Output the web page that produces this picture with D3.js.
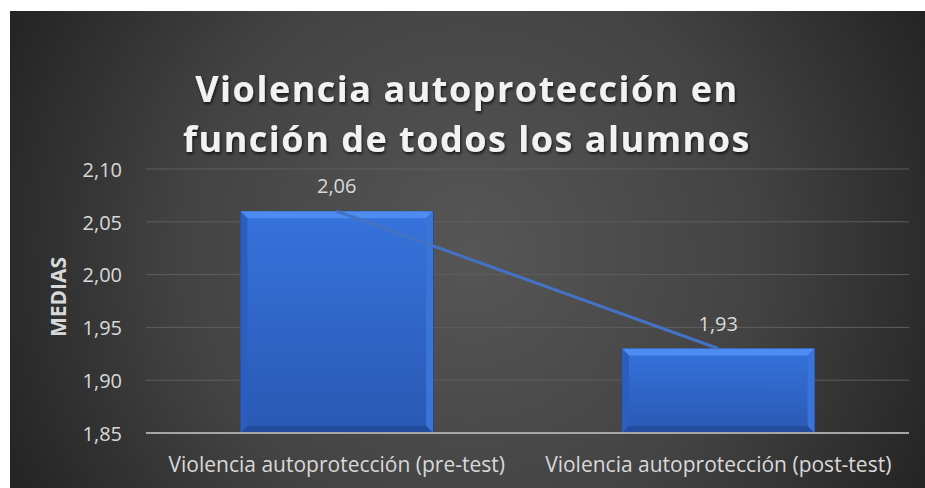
<!DOCTYPE html>
<html>
<head>
<meta charset="utf-8">
<script src="https://cdn.jsdelivr.net/npm/d3@7"></script>
<style>
  body { margin: 0; background: #fff; }
  text { font-family: "Open Sans", "Noto Sans", sans-serif; }
</style>
</head>
<body>
<svg width="925" height="488"></svg>
<script>
var categories = ["Violencia autoprotección (pre-test)", "Violencia autoprotección (post-test)"];
var values = [2.06, 1.93];
var yTicks = [1.85, 1.90, 1.95, 2.00, 2.05, 2.10];
var titleLines = ["Violencia autoprotección en", "función de todos los alumnos"];

var svg = d3.select("svg"),
    width = +svg.attr("width"),
    height = +svg.attr("height");

var locale = d3.formatLocale({ decimal: ",", thousands: ".", grouping: [3], currency: ["", "€"] });
var fmt = locale.format(".2f");

var defs = svg.append("defs");

var bg = defs.append("radialGradient").attr("id", "bg")
    .attr("gradientUnits", "userSpaceOnUse")
    .attr("cx", 470).attr("cy", 250).attr("r", 520);
bg.append("stop").attr("offset", "0%").attr("stop-color", "#565656");
bg.append("stop").attr("offset", "55%").attr("stop-color", "#434343");
bg.append("stop").attr("offset", "100%").attr("stop-color", "#232323");

var barGrad = defs.append("linearGradient").attr("id", "barGrad")
    .attr("x1", 0).attr("y1", 0).attr("x2", 0).attr("y2", 1);
barGrad.append("stop").attr("offset", "0%").attr("stop-color", "#3673dc");
barGrad.append("stop").attr("offset", "100%").attr("stop-color", "#2a58b4");

var shadow = defs.append("filter").attr("id", "shadow")
    .attr("x", "-10%").attr("y", "-20%").attr("width", "120%").attr("height", "150%");
shadow.append("feDropShadow").attr("dx", 1).attr("dy", 2).attr("stdDeviation", 1.5)
    .attr("flood-color", "#000").attr("flood-opacity", 0.7);

// background
svg.append("rect").attr("x", 10).attr("y", 11)
    .attr("width", width - 10).attr("height", height - 11)
    .attr("fill", "url(#bg)");

// title
svg.append("g").attr("filter", "url(#shadow)")
  .selectAll("text").data(titleLines).enter().append("text")
    .attr("x", 467)
    .attr("y", function(d, i) { return 102 + i * 50; })
    .attr("text-anchor", "middle")
    .attr("fill", "#f2f2f2")
    .style("font-size", "36px")
    .style("font-weight", "bold")
    .style("letter-spacing", "1.5px")
    .text(function(d) { return d; });

var x = d3.scaleBand().domain(categories).range([146, 909])
    .paddingInner(0.495).paddingOuter(0.2475);
var y = d3.scaleLinear().domain([1.85, 2.10]).range([433, 169]);

// gridlines
svg.append("g").selectAll("line").data(yTicks.slice(1)).enter().append("line")
    .attr("x1", 146).attr("x2", 909)
    .attr("y1", function(d) { return y(d); })
    .attr("y2", function(d) { return y(d); })
    .attr("stroke", "#5e5e5e").attr("stroke-width", 1);

// y axis labels
var yAxis = svg.append("g").attr("transform", "translate(122,0)")
    .call(d3.axisLeft(y).tickValues(yTicks).tickFormat(fmt).tickSize(0).tickPadding(0));
yAxis.select(".domain").remove();
yAxis.selectAll("text").attr("fill", "#d9d9d9").attr("dy", "0.36em").style("font-size", "20px");

svg.append("text")
    .attr("transform", "translate(66,297) rotate(-90)")
    .attr("text-anchor", "middle")
    .attr("fill", "#d9d9d9")
    .style("font-size", "21px").style("font-weight", "bold")
    .text("MEDIAS");

// bars with bevel
var bev = 7;
var bars = svg.append("g").selectAll("g").data(categories).enter().append("g");
bars.append("rect")
    .attr("x", function(d) { return x(d); })
    .attr("y", function(d, i) { return y(values[i]); })
    .attr("width", x.bandwidth())
    .attr("height", function(d, i) { return y(1.85) - y(values[i]); })
    .attr("fill", "url(#barGrad)")
    .attr("stroke", "#1f3f80").attr("stroke-width", 0.8);
bars.append("path")
    .attr("d", function(d, i) {
      var x0 = x(d), x1 = x(d) + x.bandwidth(), t = y(values[i]);
      return "M" + x0 + "," + t + "L" + x1 + "," + t + "L" + (x1 - bev) + "," + (t + bev) + "L" + (x0 + bev) + "," + (t + bev) + "Z";
    })
    .attr("fill", "#4d8cf0");
bars.append("path")
    .attr("d", function(d, i) {
      var x1 = x(d) + x.bandwidth(), t = y(values[i]), b = y(1.85);
      return "M" + x1 + "," + t + "L" + x1 + "," + b + "L" + (x1 - bev) + "," + (b - bev) + "L" + (x1 - bev) + "," + (t + bev) + "Z";
    })
    .attr("fill", "#3a74d6");
bars.append("path")
    .attr("d", function(d, i) {
      var x0 = x(d), t = y(values[i]), b = y(1.85);
      return "M" + x0 + "," + t + "L" + (x0 + bev) + "," + (t + bev) + "L" + (x0 + bev) + "," + (b - bev) + "L" + x0 + "," + b + "Z";
    })
    .attr("fill", "#2c5ec0");
bars.append("path")
    .attr("d", function(d, i) {
      var x0 = x(d), x1 = x(d) + x.bandwidth(), b = y(1.85);
      return "M" + x0 + "," + b + "L" + (x0 + bev) + "," + (b - bev) + "L" + (x1 - bev) + "," + (b - bev) + "L" + x1 + "," + b + "Z";
    })
    .attr("fill", "#234c9c");

// axis baseline
svg.append("line").attr("x1", 146).attr("x2", 909)
    .attr("y1", y(1.85)).attr("y2", y(1.85))
    .attr("stroke", "#a6a6a6").attr("stroke-width", 2);

// line through bar tops
var line = d3.line()
    .x(function(d, i) { return x(categories[i]) + x.bandwidth() / 2; })
    .y(function(d) { return y(d); });
svg.append("path").datum(values)
    .attr("d", line)
    .attr("fill", "none")
    .attr("stroke", "#4472c4").attr("stroke-width", 3);

// value labels
svg.append("g").selectAll("text").data(values).enter().append("text")
    .attr("x", function(d, i) { return x(categories[i]) + x.bandwidth() / 2; })
    .attr("y", function(d) { return y(d) - 18; })
    .attr("text-anchor", "middle")
    .attr("fill", "#d9d9d9")
    .style("font-size", "20px")
    .text(function(d) { return fmt(d); });

// category labels
svg.append("g").selectAll("text").data(categories).enter().append("text")
    .attr("x", function(d) { return x(d) + x.bandwidth() / 2; })
    .attr("y", 472)
    .attr("text-anchor", "middle")
    .attr("fill", "#d9d9d9")
    .style("font-size", "21px")
    .text(function(d) { return d; });
</script>
</body>
</html>
